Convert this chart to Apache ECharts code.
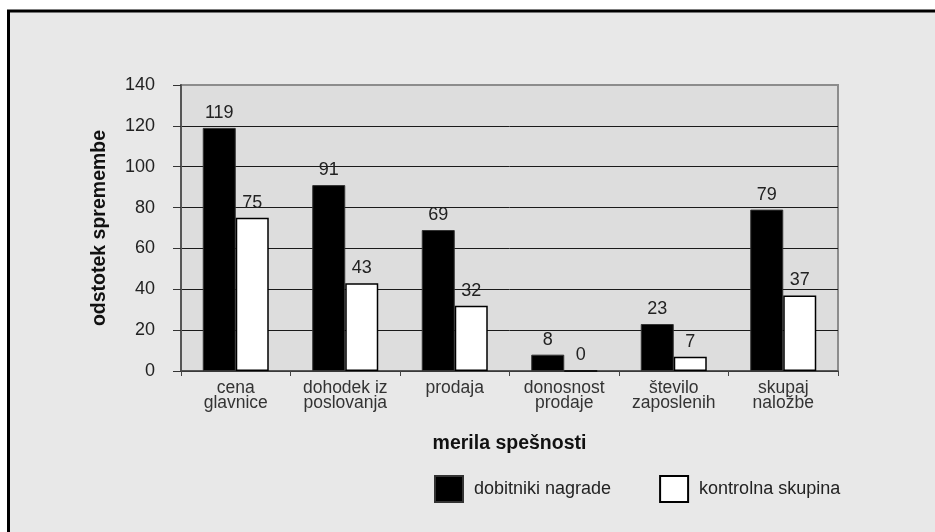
<!DOCTYPE html>
<html>
<head>
<meta charset="utf-8">
<script src="https://cdn.jsdelivr.net/npm/echarts@6/dist/echarts.min.js"></script>
<style>
  html, body { margin: 0; padding: 0; background: #fff; }
  #chart { width: 935px; height: 532px; }
</style>
</head>
<body>
<div id="chart"></div>
<script>
const categories = ['cena\nglavnice', 'dohodek iz\nposlovanja', 'prodaja', 'donosnost\nprodaje', 'število\nzaposlenih', 'skupaj\nnaložbe'];
const winners = [119, 91, 69, 8, 23, 79];
const control = [75, 43, 32, 0, 7, 37];
const seriesNames = ['dobitniki nagrade', 'kontrolna skupina'];

const font = 'Liberation Sans, Arial, sans-serif';

const chart = echarts.init(document.getElementById('chart'));

const valueLabel = {
	show: true,
	position: 'top',
	distance: 6,
	fontFamily: font,
	fontSize: 18,
	color: '#222'
};

chart.setOption({
	backgroundColor: '#fff',
	animation: false,
	graphic: [{
		type: 'rect',
		z: -10,
		silent: true,
		shape: { x: 8.5, y: 11, width: 1000, height: 1000 },
		style: { fill: '#e8e8e8', stroke: '#000', lineWidth: 3 }
	}],
	grid: {
		left: 181,
		right: 97,
		top: 85,
		bottom: 161,
		show: true,
		backgroundColor: '#dddddd',
		borderColor: '#8c8c8c',
		borderWidth: 2
	},
	legend: {
		left: 429,
		top: 470,
		icon: 'rect',
		itemWidth: 28,
		itemHeight: 26,
		itemGap: 48,
		textStyle: { fontFamily: font, fontSize: 18, color: '#222', padding: [0, 0, 0, 6] },
		data: seriesNames
	},
	xAxis: {
		type: 'category',
		data: categories,
		name: 'merila spešnosti',
		nameLocation: 'middle',
		nameGap: 63,
		nameTextStyle: { fontFamily: font, fontSize: 19.5, fontWeight: 'bold', color: '#111' },
		axisLine: { lineStyle: { color: '#444', width: 1.5 } },
		axisTick: { show: true, length: 5, lineStyle: { color: '#444' } },
		axisLabel: {
			fontFamily: font,
			fontSize: 17.5,
			lineHeight: 15,
			color: '#333',
			margin: 10,
			interval: 0
		}
	},
	yAxis: {
		type: 'value',
		min: 0,
		max: 140,
		interval: 20,
		name: 'odstotek spremembe',
		nameLocation: 'middle',
		nameGap: 71,
		nameTextStyle: { fontFamily: font, fontSize: 19.5, fontWeight: 'bold', color: '#111' },
		axisLine: { show: true, lineStyle: { color: '#555', width: 2 } },
		axisTick: { show: true, length: 8, lineStyle: { color: '#333' } },
		axisLabel: { fontFamily: font, fontSize: 18, color: '#222', margin: 26 },
		splitLine: { show: true, showMaxLine: false, lineStyle: { color: '#1a1a1a', width: 1 } }
	},
	series: [{
		name: seriesNames[0],
		type: 'bar',
		data: winners,
		barWidth: 33,
		barGap: '0%',
		itemStyle: { color: '#000', borderColor: '#333', borderWidth: 1 },
		label: valueLabel
	}, {
		name: seriesNames[1],
		type: 'bar',
		data: control,
		barWidth: 33,
		barGap: '0%',
		itemStyle: { color: '#fff', borderColor: '#000', borderWidth: 1.5 },
		label: valueLabel
	}]
});
</script>
</body>
</html>
